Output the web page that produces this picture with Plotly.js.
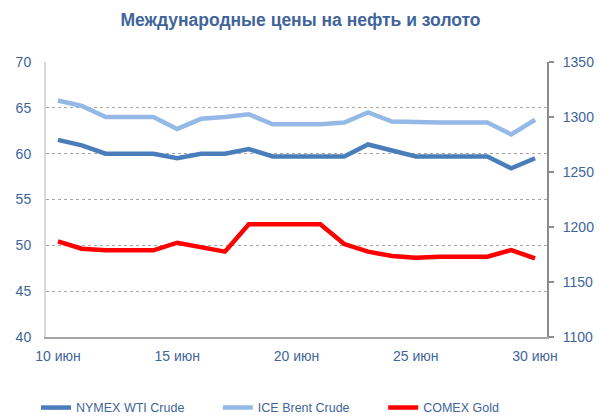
<!DOCTYPE html>
<html>
<head>
<meta charset="utf-8">
<script src="https://cdn.plot.ly/plotly-3.0.1.min.js"></script>
<style>html,body{margin:0;padding:0;background:#fff;}#chart{width:601px;height:416px;}</style>
</head>
<body>
<div id="chart"></div>
<script>
const days = [10,11,12,13,14,15,16,17,18,19,20,21,22,23,24,25,26,27,28,29,30];
const tickDays = [10,15,20,25,30];
const tickLabels = ["10 июн","15 июн","20 июн","25 июн","30 июн"];
const wti = [61.5,60.9,60.0,60.0,60.0,59.5,60.0,60.0,60.5,59.7,59.7,59.7,59.7,61.0,60.4,59.7,59.7,59.7,59.7,58.4,59.5];
const brent = [65.8,65.2,64.0,64.0,64.0,62.7,63.8,64.0,64.3,63.2,63.2,63.2,63.4,64.5,63.5,63.4,63.4,63.4,63.4,62.1,63.7];
const gold = [1187,1180.3,1178.8,1178.8,1178.8,1185.7,1181.5,1177.6,1202.5,1202.5,1202.5,1202.5,1184.5,1177.6,1173.6,1172.1,1173,1173,1173,1179,1171.5];
const seriesNames = ["NYMEX WTI Crude","ICE Brent Crude","COMEX Gold"];

const txt = '#40659a';
const traces = [
  {x: days, y: wti, name: seriesNames[0], type: 'scatter', mode: 'lines', line: {color: '#4a7ebb', width: 4.5}, legend: 'legend'},
  {x: days, y: brent, name: seriesNames[1], type: 'scatter', mode: 'lines', line: {color: '#95b9e6', width: 4.5}, legend: 'legend2'},
  {x: days, y: gold, name: seriesNames[2], type: 'scatter', mode: 'lines', yaxis: 'y2', line: {color: '#ff0000', width: 4.5}, legend: 'legend3'}
];
const legBase = {orientation: 'h', y: -0.258, yanchor: 'middle', xanchor: 'left',
  font: {size: 12.5, color: txt}, itemwidth: 30, bgcolor: 'rgba(0,0,0,0)'};
const layout = {
  width: 601, height: 416,
  margin: {l: 46, r: 54, t: 62, b: 79, autoexpand: false},
  paper_bgcolor: '#fff', plot_bgcolor: '#fff',
  font: {family: 'Liberation Sans, Arial, sans-serif', color: txt, size: 14},
  title: {text: '<b>Международные цены на нефть и золото</b>', x: 0.5, xanchor: 'center', y: 0.952, yanchor: 'middle', font: {size: 17.5, color: '#41649b'}},
  xaxis: {
    range: [9.5, 30.5], tickvals: tickDays, ticktext: tickLabels,
    showgrid: false, zeroline: false, showline: true, linecolor: '#a6a6a6', linewidth: 2,
    ticks: '', ticklabelstandoff: 5, tickfont: {size: 14, color: txt}
  },
  yaxis: {
    range: [40, 70], dtick: 5, tick0: 40, showgrid: true, gridcolor: '#a6a6a6', griddash: 'dot', gridwidth: 1,
    zeroline: false, showline: true, linecolor: '#d9d9d9', linewidth: 2, ticks: '', ticklabelstandoff: 10,
    tickfont: {size: 14, color: txt}
  },
  yaxis2: {
    range: [1100, 1350], dtick: 50, tick0: 1100, overlaying: 'y', side: 'right', showgrid: false, zeroline: false,
    showline: true, linecolor: '#8c8c8c', linewidth: 2, ticks: 'outside', ticklen: 5, tickcolor: '#8c8c8c', tickwidth: 1.5,
    ticklabelstandoff: 6, tickfont: {size: 14, color: txt}
  },
  showlegend: true,
  legend: Object.assign({}, legBase, {x: -0.02}),
  legend2: Object.assign({}, legBase, {x: 0.343}),
  legend3: Object.assign({}, legBase, {x: 0.673})
};
Plotly.newPlot('chart', traces, layout, {displayModeBar: false, staticPlot: true});
</script>
</body>
</html>
